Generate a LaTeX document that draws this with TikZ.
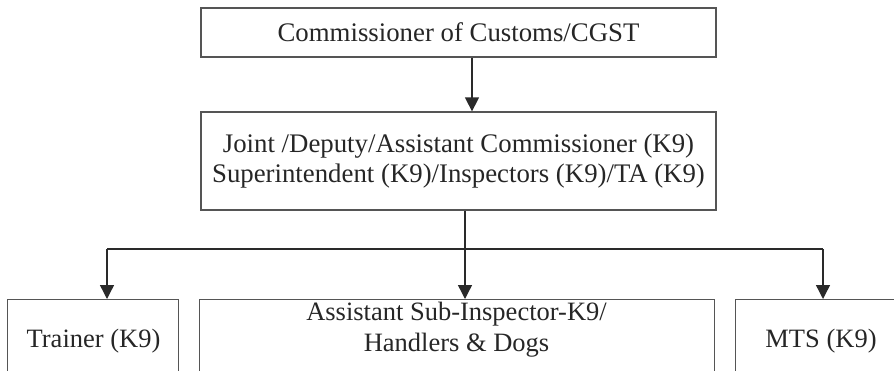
\documentclass[tikz,border=0pt]{standalone}
\usepackage{fontspec}
\setmainfont{Liberation Serif}
\usetikzlibrary{arrows.meta}
\definecolor{boxline}{HTML}{555555}
\definecolor{arrline}{HTML}{2A2A2A}
\tikzset{
  orgbox/.style={draw=boxline, line width=1.3pt, rectangle, inner sep=0pt, text=black!85},
  lbl/.style={inner sep=0pt, text=black!85, align=center, font=\fontsize{26.5}{31}\selectfont},
  conn/.style={draw=arrline, line width=1.4pt},
  arr/.style={conn, -{Triangle[width=14pt,length=14pt]}}
}
\begin{document}
\begin{tikzpicture}[x=1pt,y=-1pt]
\useasboundingbox (0,0) rectangle (894,370);
\clip (0,0) rectangle (894,370);
% top boxes
\node[orgbox, minimum width=515pt, minimum height=49pt, font=\fontsize{26.8}{30}\selectfont] (top) at (458.5,32.5) {Commissioner of Customs/CGST};
\node[orgbox, minimum width=515pt, minimum height=98pt, align=center, font=\fontsize{26.8}{30}\selectfont] (mid) at (458.5,161) {Joint /Deputy/Assistant Commissioner (K9)\\Superintendent (K9)/Inspectors (K9)/TA (K9)};
% bottom boxes (open at the bottom edge)
\node[orgbox, anchor=north west, minimum width=171pt, minimum height=100pt] (trainer) at (7,299) {};
\node[orgbox, anchor=north west, minimum width=515pt, minimum height=100pt] (asi) at (199,299) {};
\node[orgbox, anchor=north west, minimum width=170pt, minimum height=100pt] (mts) at (735,299) {};
\node[lbl, anchor=base] (ttrainer) at (93.5,347) {Trainer (K9)};
\node[lbl, anchor=north] (tasi) at (456.5,302) {Assistant Sub-Inspector-K9/\\Handlers \& Dogs};
\node[lbl, anchor=base] (tmts) at (821,347) {MTS (K9)};
% connectors
\coordinate (xt) at (472,0);
\coordinate (jn) at (465,249);
\coordinate (xl) at (107,249);
\coordinate (xr) at (823,249);
\draw[arr] (top.south -| xt) -- (mid.north -| xt);
\draw[conn] (mid.south -| jn) -- (jn);
\draw[conn] (xl) -- (xr);
\draw[arr] (xl) -- (trainer.north -| xl);
\draw[arr] (jn) -- (asi.north -| jn);
\draw[arr] (xr) -- (mts.north -| xr);
\end{tikzpicture}
\end{document}
